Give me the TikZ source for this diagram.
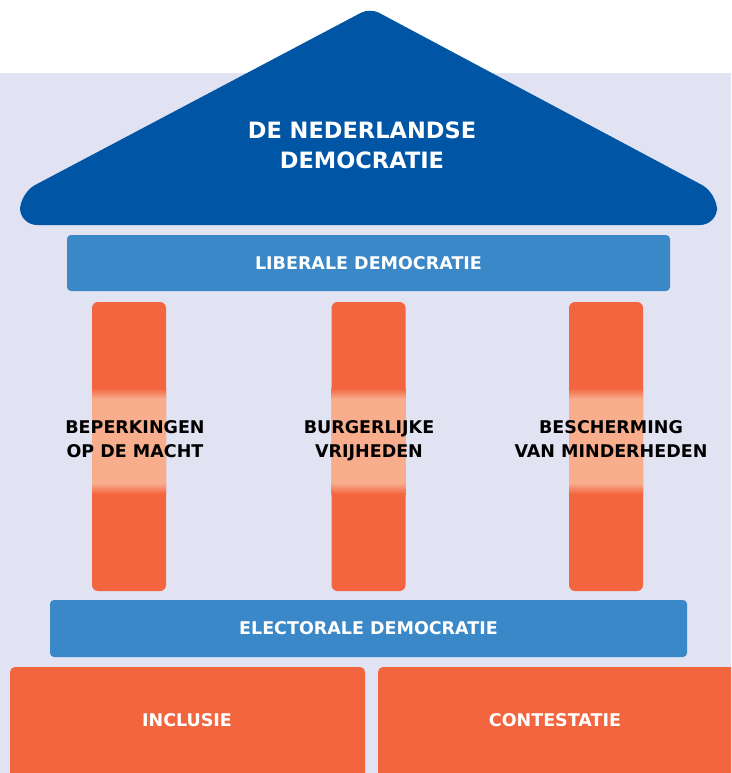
\documentclass[tikz,border=0pt]{standalone}
\usepackage{fontspec}
\setmainfont{DejaVu Sans}
\definecolor{bglav}{HTML}{E1E2F2}
\definecolor{roofblue}{HTML}{0055A5}
\definecolor{barblue}{HTML}{3B88C8}
\definecolor{pilorange}{HTML}{F3653F}
\definecolor{pillight}{HTML}{F8AD8D}
\begin{document}
\begin{tikzpicture}[x=1pt,y=-1pt,
  bar/.style={fill=barblue, rounded corners=4pt, inner sep=0pt, text=white,
    font=\fontsize{17.5}{21}\selectfont\bfseries},
  basebox/.style={fill=pilorange, rounded corners=5pt, inner sep=0pt, text=white,
    font=\fontsize{17.5}{21}\selectfont\bfseries},
  pillarbox/.style={fill=pilorange, rounded corners=6pt, inner sep=0pt,
    minimum width=74pt, minimum height=289pt},
  pillabel/.style={text=black, align=center, inner sep=0pt, anchor=north,
    font=\fontsize{17.5}{24}\selectfont\bfseries},
  rooflabel/.style={text=white, align=center, inner sep=0pt,
    font=\fontsize{22.5}{30}\selectfont\bfseries}]
\useasboundingbox (0,0) rectangle (731,773);
\clip (0,0) rectangle (731,773);
\fill[white] (0,0) rectangle (731,773);
\fill[bglav] (0,73) rectangle (731,773);
% roof
\fill[roofblue] [rounded corners=17pt] (20,225) -- (20,193) [rounded corners=10pt] -- (370,8)
  [rounded corners=17pt] -- (717,193) -- (717,225) -- cycle;
\node[rooflabel] (roof) at (362,145) {DE NEDERLANDSE\\DEMOCRATIE};
% liberale bar
\node[bar, minimum width=603pt, minimum height=56pt] (lib) at (368.5,263) {LIBERALE DEMOCRATIE};
% pillars
\foreach \n/\cx in {p1/129, p2/368.5, p3/606}{
  \node[pillarbox] (\n) at (\cx,446.5) {};
  \shade[top color=pilorange, bottom color=pillight] (\cx-37,388) rectangle (\cx+37,399);
  \fill[pillight] (\cx-37,398.5) rectangle (\cx+37,483.5);
  \shade[top color=pillight, bottom color=pilorange] (\cx-37,483) rectangle (\cx+37,494);
}
\node[pillabel] (l1) at (135,420) {BEPERKINGEN\\OP DE MACHT};
\node[pillabel] (l2) at (369,420) {BURGERLIJKE\\VRIJHEDEN};
\node[pillabel] (l3) at (611,420) {BESCHERMING\\VAN MINDERHEDEN};
% electorale bar
\node[bar, minimum width=637pt, minimum height=57pt] (elec) at (368.5,628.5) {ELECTORALE DEMOCRATIE};
% base boxes
\node[basebox, minimum width=355pt, minimum height=112pt] (incl) at (187.5,723) {};
\node[text=white, font=\fontsize{17.5}{21}\selectfont\bfseries, inner sep=0pt] (inclt) at (187,720) {INCLUSIE};
\node[basebox, minimum width=362pt, minimum height=112pt] (cont) at (559,723) {};
\node[text=white, font=\fontsize{17.5}{21}\selectfont\bfseries, inner sep=0pt] (contt) at (555,720) {CONTESTATIE};
\end{tikzpicture}
\end{document}
